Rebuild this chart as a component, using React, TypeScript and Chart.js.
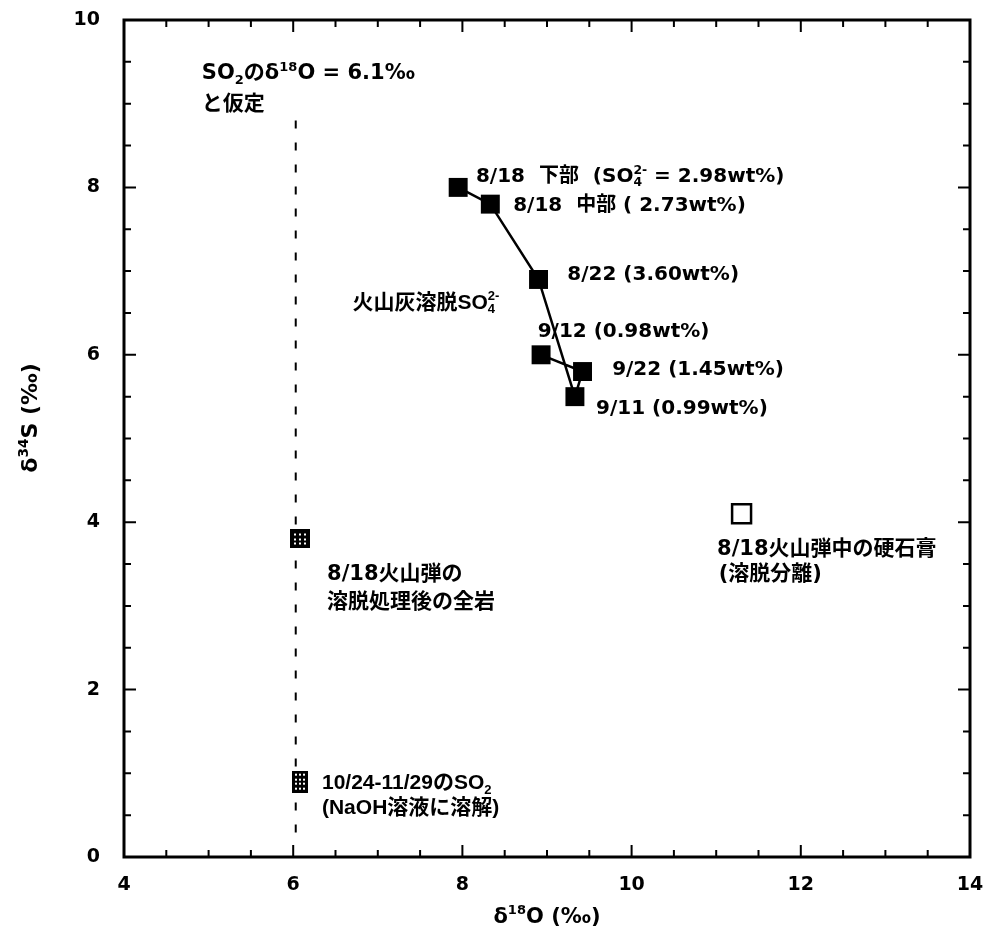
import React, { useEffect, useRef } from 'react';
import { Chart, registerables } from 'chart.js';

Chart.register(...registerables);

// ---- data ----
const sulfateNames = ['8/18 下部', '8/18 中部', '8/22', '9/11', '9/22', '9/12'];
const sulfateD18O = [7.95, 8.33, 8.9, 9.33, 9.42, 8.93];
const sulfateD34S = [8.0, 7.8, 6.9, 5.5, 5.8, 6.0];

const rockD18O = [6.08];
const rockD34S = [3.8];

const so2D18O = [6.08];
const so2D34S = [0.9];

const anhydriteD18O = [11.3];
const anhydriteD34S = [4.1];

const assumedLineD18O = [6.03, 6.03];
const assumedLineD34S = [8.8, 0.2];

const xTickValues = [4, 6, 8, 10, 12, 14];
const yTickValues = [0, 2, 4, 6, 8, 10];

const LATIN = "'DejaVu Sans', 'Noto Sans CJK JP', sans-serif";
const ARIAL = "'Liberation Sans', 'Noto Sans CJK JP', sans-serif";

// annotations: text, anchor (data units, left / middle), font size, family
const annotations = [
  { t: 'SO_{2}のδ^{18}O = 6.1‰', x: 4.92, y: 9.38, s: 21, f: LATIN },
  { t: 'と仮定', x: 4.92, y: 9.02, s: 21, f: LATIN },
  { t: '8/18  下部  (SO_{4}^{2-} = 2.98wt%)', x: 8.16, y: 8.15, s: 20, f: LATIN },
  { t: '8/18  中部 ( 2.73wt%)', x: 8.6, y: 7.81, s: 20, f: LATIN },
  { t: '8/22 (3.60wt%)', x: 9.24, y: 6.98, s: 20, f: LATIN },
  { t: '9/12 (0.98wt%)', x: 8.89, y: 6.3, s: 20, f: LATIN },
  { t: '9/22 (1.45wt%)', x: 9.77, y: 5.84, s: 20, f: LATIN },
  { t: '9/11 (0.99wt%)', x: 9.58, y: 5.38, s: 20, f: LATIN },
  { t: '火山灰溶脱SO_{4}^{2-}', x: 6.7, y: 6.64, s: 21, f: ARIAL },
  { t: '8/18火山弾の', x: 6.4, y: 3.4, s: 21, f: LATIN },
  { t: '溶脱処理後の全岩', x: 6.4, y: 3.07, s: 21, f: LATIN },
  { t: '10/24-11/29のSO_{2}', x: 6.34, y: 0.9, s: 21, f: ARIAL },
  { t: '(NaOH溶液に溶解)', x: 6.34, y: 0.6, s: 21, f: ARIAL },
  { t: '8/18火山弾中の硬石膏', x: 11.01, y: 3.7, s: 21, f: LATIN },
  { t: '(溶脱分離)', x: 11.03, y: 3.4, s: 21, f: LATIN },
];

function drawRich(ctx: CanvasRenderingContext2D, str: string, x: number, ymid: number, size: number, family: string) {
  const parts = str.split(/(_\{[^}]*\}|\^\{[^}]*\})/).filter((p) => p.length);
  let cx = x;
  let subStart = 0;
  let prevSub = false;
  const base = ymid + size * 0.36;
  ctx.textBaseline = 'alphabetic';
  ctx.textAlign = 'left';
  ctx.fillStyle = '#000';
  for (const p of parts) {
    if (p.startsWith('_{')) {
      const t = p.slice(2, -1);
      ctx.font = `bold ${size * 0.62}px ${family}`;
      ctx.fillText(t, cx, base + size * 0.22);
      subStart = cx;
      cx += ctx.measureText(t).width;
      prevSub = true;
    } else if (p.startsWith('^{')) {
      const t = p.slice(2, -1);
      ctx.font = `bold ${size * 0.62}px ${family}`;
      const sx = prevSub ? subStart : cx;
      ctx.fillText(t, sx, base - size * 0.42);
      cx = Math.max(cx, sx + ctx.measureText(t).width);
      prevSub = false;
    } else {
      ctx.font = `bold ${size}px ${family}`;
      ctx.fillText(p, cx, base);
      cx += ctx.measureText(p).width;
      prevSub = false;
    }
  }
  return cx - x;
}

function measureRich(ctx: CanvasRenderingContext2D, str: string, size: number, family: string) {
  ctx.save();
  ctx.globalAlpha = 0;
  const w = drawRich(ctx, str, -10000, -10000, size, family);
  ctx.restore();
  return w;
}

function makeHatched(w: number, h: number, cols: number, rows: number) {
  const c = document.createElement('canvas');
  c.width = w;
  c.height = h;
  const g = c.getContext('2d')!;
  g.fillStyle = '#000';
  g.fillRect(0, 0, w, h);
  g.fillStyle = '#fff';
  const dx = w / (cols + 1);
  const dy = h / (rows + 1);
  for (let i = 1; i <= cols; i++) {
    for (let j = 1; j <= rows; j++) {
      g.fillRect(Math.round(i * dx - 1), Math.round(j * dy - 1), 2, 2);
    }
  }
  return c;
}

const pts = (xs: number[], ys: number[]) => xs.map((x, i) => ({ x, y: ys[i] }));

const framePlugin = {
  id: 'frameAndText',
  afterDraw(chart: any) {
    const { ctx, chartArea: a, scales } = chart;
    const xs = scales.x;
    const ys = scales.y;
    ctx.save();
    // inward ticks
    ctx.strokeStyle = '#000';
    ctx.lineWidth = 2;
    for (let v = 4; v <= 14.001; v += 0.5) {
      const px = xs.getPixelForValue(v);
      const len = Math.abs(v % 2) < 1e-6 ? 12 : 7;
      ctx.beginPath();
      ctx.moveTo(px, a.bottom);
      ctx.lineTo(px, a.bottom - len);
      ctx.moveTo(px, a.top);
      ctx.lineTo(px, a.top + len);
      ctx.stroke();
    }
    for (let v = 0; v <= 10.001; v += 0.5) {
      const py = ys.getPixelForValue(v);
      const len = Math.abs(v % 2) < 1e-6 ? 12 : 7;
      ctx.beginPath();
      ctx.moveTo(a.left, py);
      ctx.lineTo(a.left + len, py);
      ctx.moveTo(a.right, py);
      ctx.lineTo(a.right - len, py);
      ctx.stroke();
    }
    // frame
    ctx.lineWidth = 3;
    ctx.strokeRect(a.left, a.top, a.right - a.left, a.bottom - a.top);

    // annotations
    for (const an of annotations) {
      drawRich(ctx, an.t, xs.getPixelForValue(an.x), ys.getPixelForValue(an.y), an.s, an.f);
    }

    // axis titles
    const xt = 'δ^{18}O (‰)';
    const xw = measureRich(ctx, xt, 21, LATIN);
    drawRich(ctx, xt, (a.left + a.right) / 2 - xw / 2, 915, 21, LATIN);

    const yt = 'δ^{34}S (‰)';
    const yw = measureRich(ctx, yt, 22, LATIN);
    ctx.translate(29, 418);
    ctx.rotate(-Math.PI / 2);
    drawRich(ctx, yt, -yw / 2, 0, 22, LATIN);
    ctx.restore();
  },
};

export default function App() {
  const ref = useRef<HTMLCanvasElement | null>(null);
  useEffect(() => {
    document.body.style.margin = '0';
    const canvas = ref.current!;
    const rockImg = makeHatched(20, 19, 3, 3);
    const so2Img = makeHatched(16, 22, 3, 4);
    const chart = new Chart(canvas, {
      type: 'scatter',
      data: {
        datasets: [
          {
            label: '火山灰溶脱SO4',
            data: pts(sulfateD18O, sulfateD34S),
            showLine: true,
            borderColor: '#000',
            borderWidth: 2.5,
            backgroundColor: '#000',
            pointStyle: 'rect',
            pointRadius: 13.4,
            pointBorderWidth: 0,
          },
          {
            label: '全岩',
            data: pts(rockD18O, rockD34S),
            pointStyle: rockImg as any,
          },
          {
            label: 'SO2',
            data: pts(so2D18O, so2D34S),
            pointStyle: so2Img as any,
          },
          {
            label: '硬石膏',
            data: pts(anhydriteD18O, anhydriteD34S),
            pointStyle: 'rect',
            pointRadius: 13.4,
            backgroundColor: '#fff',
            borderColor: '#000',
            borderWidth: 2.5,
          },
          {
            label: 'assumed',
            data: pts(assumedLineD18O, assumedLineD34S),
            showLine: true,
            borderColor: '#000',
            borderWidth: 2,
            borderDash: [8, 14],
            pointRadius: 0,
          },
        ],
      },
      options: {
        animation: false,
        responsive: false,
        devicePixelRatio: 1,
        layout: { padding: { left: 0, top: 20, right: 18, bottom: 0 } },
        plugins: { legend: { display: false }, tooltip: { enabled: false } },
        scales: {
          x: {
            type: 'linear',
            min: 4,
            max: 14,
            grid: { display: false, drawTicks: false },
            border: { display: false },
            afterBuildTicks: (s: any) => {
              s.ticks = xTickValues.map((v) => ({ value: v }));
            },
            afterFit: (s: any) => {
              s.height = 76;
              s.paddingLeft = 0;
              s.paddingRight = 0;
            },
            ticks: {
              padding: 17,
              color: '#000',
              font: { family: LATIN, size: 19, weight: 'bold' },
              maxRotation: 0,
            },
          },
          y: {
            type: 'linear',
            min: 0,
            max: 10,
            grid: { display: false, drawTicks: false },
            border: { display: false },
            afterBuildTicks: (s: any) => {
              s.ticks = yTickValues.map((v) => ({ value: v }));
            },
            afterFit: (s: any) => {
              s.width = 124;
              s.paddingTop = 0;
              s.paddingBottom = 0;
            },
            ticks: {
              padding: 24,
              color: '#000',
              font: { family: LATIN, size: 19, weight: 'bold' },
            },
          },
        },
      },
      plugins: [framePlugin],
    });
    return () => chart.destroy();
  }, []);
  return (
    <div style={{ width: 988, height: 933 }}>
      <canvas ref={ref} width={988} height={933} />
    </div>
  );
}
